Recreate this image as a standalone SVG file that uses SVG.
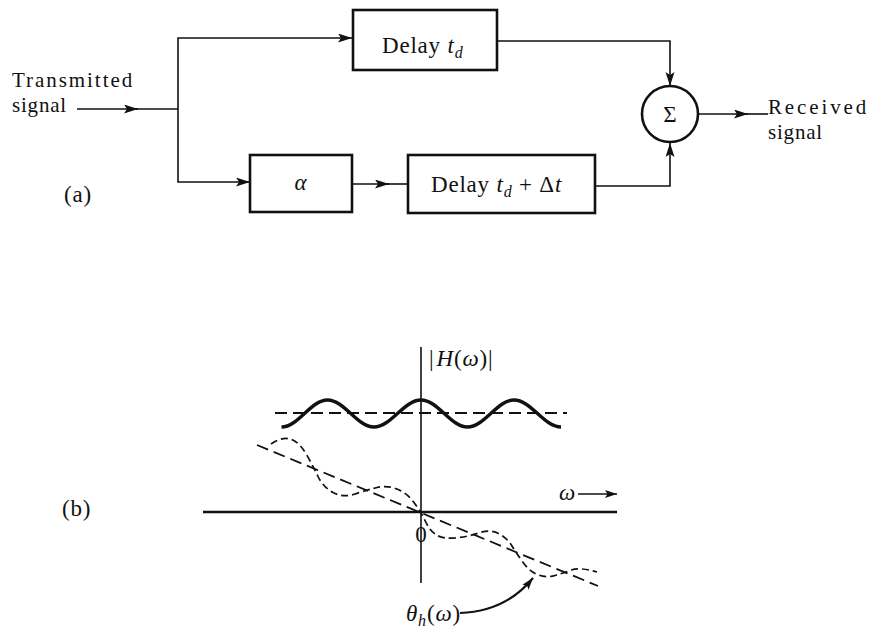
<svg xmlns="http://www.w3.org/2000/svg" width="872" height="630" viewBox="0 0 872 630">
<style>
  text { font-family: "Liberation Serif", "Times New Roman", serif; font-size: 23px; fill: #111; letter-spacing: 0.8px; }
  .lbl { font-size: 21px; }
  .it { font-style: italic; }
  .sub { font-style: italic; font-size: 16px; }
  .box { fill: #fff; stroke: #111; stroke-width: 2.6; }
  .wire { fill: none; stroke: #111; stroke-width: 1.6; }
  .dash { fill: none; stroke: #111; stroke-width: 1.8; stroke-dasharray: 12 6; }
  .dash2 { fill: none; stroke: #111; stroke-width: 1.7; stroke-dasharray: 7 4; }
</style>
<defs>
  <marker id="arr" markerUnits="userSpaceOnUse" markerWidth="16" markerHeight="10" refX="14" refY="4.5" orient="auto">
    <path d="M0,0 L14,4.5 L0,9 L3,4.5 z" fill="#111"/>
  </marker>
  <marker id="arrs" markerUnits="userSpaceOnUse" markerWidth="14" markerHeight="10" refX="12" refY="4" orient="auto">
    <path d="M0,0 L12,4 L0,8 L2.5,4 z" fill="#111"/>
  </marker>
</defs>

<!-- (a) block diagram -->
<g id="input-label">
  <text class="lbl" x="12" y="87" textLength="121" lengthAdjust="spacing">Transmitted</text>
  <text class="lbl" x="12" y="112" textLength="55" lengthAdjust="spacing">signal</text>
</g>
<g id="label-a"><text x="64" y="202">(a)</text></g>

<g id="delay1">
  <rect class="box" x="353" y="10" width="144" height="60"/>
  <text x="382" y="53">Delay <tspan class="it">t</tspan><tspan class="sub" dy="5">d</tspan></text>
</g>

<g id="alpha">
  <rect class="box" x="250" y="155" width="102" height="57"/>
  <text x="301" y="190" text-anchor="middle" class="it">α</text>
</g>

<g id="delay2">
  <rect class="box" x="408" y="155" width="187" height="58"/>
  <text x="431" y="192">Delay <tspan class="it">t</tspan><tspan class="sub" dy="5">d</tspan><tspan dy="-5"> + Δ</tspan><tspan class="it">t</tspan></text>
</g>

<g id="sum">
  <circle cx="670" cy="114" r="28" fill="#fff" stroke="#111" stroke-width="2.6"/>
  <text x="670" y="122" text-anchor="middle" style="letter-spacing:0">Σ</text>
</g>

<g id="output-label">
  <text class="lbl" x="768" y="114" textLength="99" lengthAdjust="spacing">Received</text>
  <text class="lbl" x="768" y="139" textLength="55" lengthAdjust="spacing">signal</text>
</g>

<g id="connectors">
  <line class="wire" x1="77" y1="109" x2="138" y2="109" marker-end="url(#arr)"/>
  <line class="wire" x1="136" y1="109" x2="178" y2="109"/>
  <polyline class="wire" points="178,109 178,38 352,38" marker-end="url(#arr)"/>
  <polyline class="wire" points="178,109 178,182 250,182" marker-end="url(#arr)"/>
  <line class="wire" x1="352" y1="184" x2="389" y2="184" marker-end="url(#arr)"/>
  <line class="wire" x1="387" y1="184" x2="408" y2="184"/>
  <polyline class="wire" points="497,41 670,41 670,86" marker-end="url(#arr)"/>
  <polyline class="wire" points="595,186 670,186 670,143" marker-end="url(#arr)"/>
  <line class="wire" x1="698" y1="114" x2="748" y2="114" marker-end="url(#arr)"/>
  <line class="wire" x1="746" y1="114" x2="768" y2="114"/>
</g>

<!-- (b) frequency response plot -->
<g id="label-b"><text x="62" y="516">(b)</text></g>

<g id="plot">
  <line x1="421" y1="347" x2="421" y2="583" stroke="#111" stroke-width="1.6"/>
  <line x1="203" y1="512" x2="617" y2="512" stroke="#111" stroke-width="2.4"/>
  <text x="429" y="366"><tspan style="letter-spacing:3px">|</tspan><tspan class="it">H</tspan>(<tspan class="it">ω</tspan>)|</text>
  <text x="559" y="500" class="it">ω</text>
  <line x1="578" y1="494" x2="617" y2="494" stroke="#111" stroke-width="1.6" marker-end="url(#arrs)"/>
  <text x="421" y="542" text-anchor="middle" style="letter-spacing:0">0</text>

  <line class="dash" x1="275" y1="413" x2="567" y2="413"/>
  <path d="M 281.5 427 C 298.5 427 310.5 400 327.5 400 C 344.5 400 357 427 374 427 C 391 427 404 400 421 400 C 438 400 450.5 427 467.5 427 C 484.5 427 497 400 514 400 C 531 400 544 427 561 427" fill="none" stroke="#111" stroke-width="3.4"/>

  <line class="dash" x1="257" y1="445" x2="598" y2="586"/>
  <path class="dash2" d="M 271 444 Q 283 436 291.5 439.5 Q 300 443 306.5 454.5 Q 313 466 318 476.5 Q 323 487 333 492.5 Q 343 498 355 494 Q 367 490 377 487.5 Q 387 485 397 489 Q 407 493 414 502.5 Q 421 512 425.5 521.5 Q 430 531 436.5 535 Q 443 539 455 538 Q 467 537 478.5 533 Q 490 529 498.5 533.5 Q 507 538 512 546 Q 517 554 523.5 563 Q 530 572 538.5 575 Q 547 578 555 575.5 Q 563 573 571.5 570 Q 580 567 597 572"/>

  <text x="406" y="621"><tspan class="it">θ</tspan><tspan class="sub" dy="5">h</tspan><tspan dy="-5">(</tspan><tspan class="it">ω</tspan>)</text>
  <path d="M 460 613 C 490 612 515 600 533 578" fill="none" stroke="#111" stroke-width="2.2" marker-end="url(#arrs)"/>
</g>
</svg>
